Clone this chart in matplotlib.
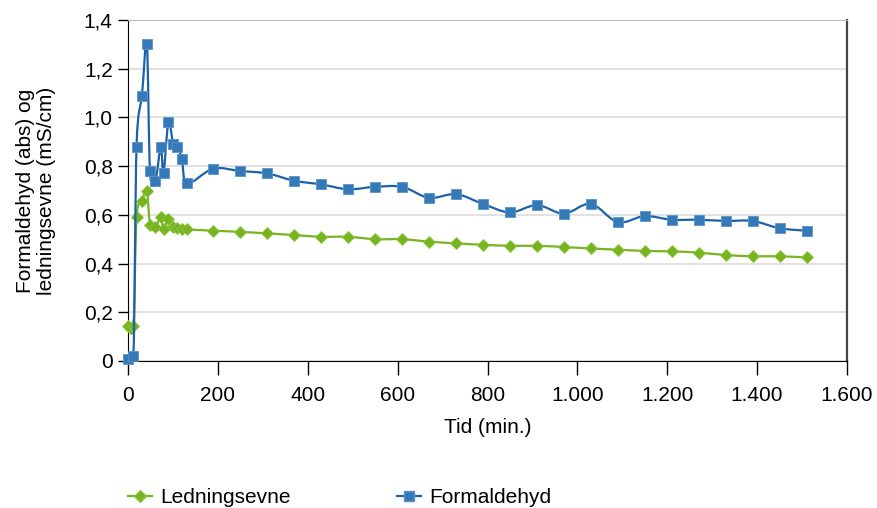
'''
Formaldehyd og ledningsevne over tid.
'''

import numpy as np
import matplotlib
matplotlib.use('Agg')
import matplotlib.pyplot as plt
from matplotlib.path import Path
from matplotlib.patches import PathPatch
from matplotlib.lines import Line2D
from matplotlib.ticker import FuncFormatter

plt.rcParams['font.family'] = ['Liberation Sans', 'DejaVu Sans']

# data
tid = [0, 12, 19, 31, 42, 49, 61, 73, 79, 90, 101, 110, 120, 132,
       190, 250, 310, 370, 430, 490, 550, 610, 670, 730, 790, 850,
       910, 970, 1030, 1090, 1150, 1210, 1270, 1330, 1390, 1450, 1510]
formaldehyd = [0.01, 0.02, 0.88, 1.09, 1.30, 0.78, 0.74, 0.88, 0.77, 0.98,
               0.89, 0.88, 0.83, 0.73,
               0.79, 0.78, 0.77, 0.74, 0.725, 0.705, 0.715, 0.715, 0.67,
               0.685, 0.645, 0.61, 0.64, 0.605, 0.645, 0.57, 0.595, 0.58,
               0.58, 0.575, 0.575, 0.545, 0.535]
ledningsevne = [0.145, 0.145, 0.59, 0.655, 0.70, 0.56, 0.55, 0.59, 0.54,
                0.585, 0.55, 0.545, 0.54, 0.54,
                0.535, 0.53, 0.524, 0.517, 0.51, 0.51, 0.50, 0.50, 0.49,
                0.483, 0.477, 0.473, 0.473, 0.468, 0.462, 0.457, 0.452,
                0.45, 0.445, 0.435, 0.43, 0.43, 0.425]

green = '#77b41f'
blue_line = '#1c62a8'
blue_fill = '#3479b8'
fs = 15


def smooth_path(x, y):
    # Excel-style smoothed line as cubic bezier segments
    p = np.column_stack([x, y]).astype(float)
    n = len(p)
    verts = [p[0]]
    codes = [Path.MOVETO]
    for i in range(n - 1):
        p0 = p[i - 1] if i > 0 else p[i]
        p3 = p[i + 2] if i + 2 < n else p[i + 1]
        c1 = p[i] + (p[i + 1] - p0) / 6
        c2 = p[i + 1] - (p3 - p[i]) / 6
        verts += [c1, c2, p[i + 1]]
        codes += [Path.CURVE4] * 3
    return Path(verts, codes)


fig = plt.figure(figsize=(8.77, 5.08), dpi=100)
ax = fig.add_axes([128 / 877, 1 - 361 / 508, (847 - 128) / 877, (361 - 20) / 508])

ax.add_patch(PathPatch(smooth_path(tid, ledningsevne), fill=False,
                       edgecolor=green, lw=1.6, zorder=3))
ax.plot(tid, ledningsevne, ls='none', marker='D', ms=6.5, color=green,
        mec='#8cc63f', mew=0.6, zorder=4, clip_on=False)
ax.add_patch(PathPatch(smooth_path(tid, formaldehyd), fill=False,
                       edgecolor=blue_line, lw=1.6, zorder=5))
ax.plot(tid, formaldehyd, ls='none', marker='s', ms=7.5, color=blue_fill,
        mec='#5b93c9', mew=0.6, zorder=6, clip_on=False)

ax.set_xlim(0, 1600)
ax.set_ylim(0, 1.4)
ax.set_xticks(np.arange(0, 1601, 200))
ax.set_yticks(np.arange(0, 1.41, 0.2))
ax.xaxis.set_major_formatter(FuncFormatter(lambda v, p: f'{v:,.0f}'.replace(',', '.')))
ax.yaxis.set_major_formatter(FuncFormatter(lambda v, p: '0' if abs(v) < 1e-9 else f'{v:.1f}'.replace('.', ',')))
ax.tick_params(labelsize=fs, direction='out', length=10, width=1, colors='black', pad=8)
ax.tick_params(axis='y', length=7, pad=4)

ax.grid(axis='y', color='#dcdcdc', lw=1.2)
ax.set_axisbelow(True)
ax.spines['top'].set_color('#bbbbbb')
ax.spines['right'].set_color('#444444')
ax.spines['right'].set_linewidth(1.6)
ax.spines['left'].set_color('black')
ax.spines['bottom'].set_color('black')

ax.set_xlabel('Tid (min.)', fontsize=fs)
ax.xaxis.set_label_coords(0.5, (361 - 418) / 341)
ax.set_ylabel('Formaldehyd (abs) og\nledningsevne (mS/cm)', fontsize=fs,
              linespacing=1.15)
ax.yaxis.set_label_coords((56 - 128) / 719, 0.5)

handles = [Line2D([], [], color=green, lw=1.6, marker='D', ms=6.5, mec='#8cc63f'),
           Line2D([], [], color=blue_line, lw=1.6, marker='s', ms=7.5,
                  mfc=blue_fill, mec='#5b93c9')]
fig.legend(handles, ['Ledningsevne', 'Formaldehyd'], loc='lower left',
           bbox_to_anchor=(128 / 877, 0.002), ncol=2, frameon=False, fontsize=fs,
           handlelength=1.15, handletextpad=0.4, columnspacing=5.1,
           borderpad=0, borderaxespad=0)

plt.savefig('out.png', dpi=100)
